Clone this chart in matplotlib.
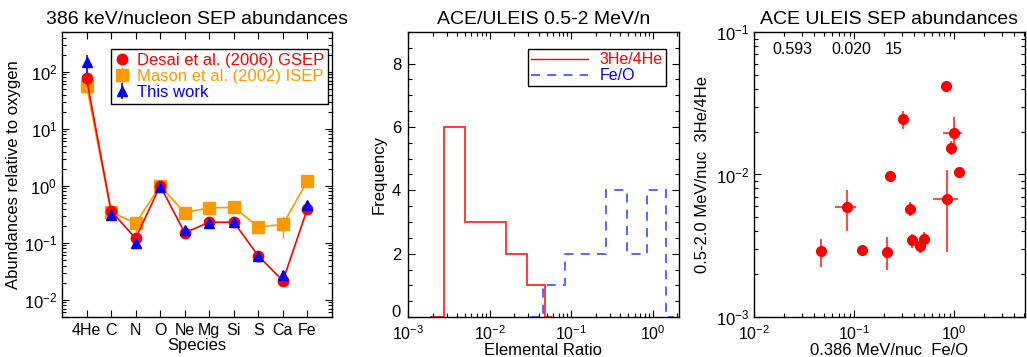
import matplotlib
matplotlib.use("Agg")
import matplotlib.pyplot as plt
import matplotlib.transforms as mtransforms
from matplotlib.lines import Line2D
from matplotlib.ticker import LogLocator, MultipleLocator, NullFormatter
import numpy as np

plt.rcParams['font.family'] = ['Liberation Sans', 'DejaVu Sans']
plt.rcParams['mathtext.default'] = 'regular'

# ---- panel 1: abundances relative to oxygen ----
species = ["4He", "C", "N", "O", "Ne", "Mg", "Si", "S", "Ca", "Fe"]
desai = [77, 0.36, 0.12, 1.0, 0.15, 0.23, 0.23, 0.059, 0.0216, 0.40]
mason = [57, 0.35, 0.22, 1.0, 0.34, 0.41, 0.42, 0.19, 0.21, 1.22]
mason_lo = [57, 0.35, 0.158, 1.0, 0.34, 0.41, 0.42, 0.16, 0.12, 1.22]
mason_hi = [57, 0.35, 0.25, 1.0, 0.34, 0.41, 0.42, 0.21, 0.30, 1.22]
this_work = [150, 0.31, 0.10, 0.97, 0.17, 0.225, 0.235, 0.058, 0.0275, 0.46]
this_lo = [96, 0.30, 0.095, 0.95, 0.16, 0.215, 0.225, 0.055, 0.024, 0.43]
this_hi = [198, 0.32, 0.105, 0.99, 0.18, 0.235, 0.245, 0.061, 0.032, 0.49]

# ---- panel 2: histograms of elemental ratios ----
he_edges = [0.00185, 0.00275, 0.00505, 0.0090, 0.0161, 0.0290, 0.0475, 0.0586]
he_counts = [0, 6, 3, 3, 2, 1, 0]
fe_edges = [0.0314, 0.0455, 0.083, 0.15, 0.268, 0.48, 0.855, 1.44, 1.81]
fe_counts = [0, 1, 2, 2, 4, 2, 4, 0]

# ---- panel 3: 3He/4He vs Fe/O ----
fe_o = [0.82, 0.307, 0.995, 0.94, 1.11, 0.227, 0.084, 0.366, 0.84, 0.375, 0.50, 0.46, 0.047, 0.119, 0.214]
fe_lo = [0.80, 0.30, 0.776, 0.92, 1.08, 0.22, 0.0646, 0.355, 0.617, 0.365, 0.49, 0.45, 0.046, 0.116, 0.208]
fe_hi = [0.84, 0.315, 1.21, 0.96, 1.14, 0.234, 0.1047, 0.377, 1.08, 0.385, 0.51, 0.47, 0.048, 0.122, 0.22]
he3 = [0.0418, 0.0244, 0.0196, 0.0153, 0.0104, 0.00976, 0.0059, 0.00577, 0.00677, 0.00349, 0.00352, 0.00313, 0.00289, 0.00294, 0.00286]
he3_lo = [0.040, 0.021, 0.0141, 0.0136, 0.0098, 0.0093, 0.00401, 0.00512, 0.00286, 0.00305, 0.00316, 0.00281, 0.00224, 0.00271, 0.00212]
he3_hi = [0.0436, 0.0279, 0.0254, 0.0172, 0.0111, 0.0104, 0.00775, 0.00642, 0.0107, 0.00385, 0.00395, 0.00345, 0.00355, 0.00317, 0.00364]
corr_text = ["0.593", "0.020", "15"]

orange = '#ff9900'
title_size = 14
label_size = 12
tick_size = 12


def style_axis(ax, xpad=4):
  ax.tick_params(which='both', direction='in', top=True, right=True, labelsize=tick_size, width=0.8)
  ax.tick_params(which='major', length=5)
  ax.tick_params(which='minor', length=3)
  ax.tick_params(axis='x', which='both', pad=xpad)
  for s in ax.spines.values():
    s.set_linewidth(1.0)


fig = plt.figure(figsize=(10.27, 3.57), dpi=100)
ax1 = fig.add_axes([62/1027, 40/357, 270/1027, 285/357])
ax2 = fig.add_axes([408/1027, 40/357, 271/1027, 285/357])
ax3 = fig.add_axes([754/1027, 40/357, 271/1027, 285/357])

###############################
### Panel 1
###############################
xpos = np.arange(len(species))
ax1.plot(xpos, mason, color=orange, lw=1.2, zorder=2)
ax1.plot(xpos, desai, color='red', lw=1.2, zorder=3)
ax1.plot(xpos, desai, 'o', color='red', ms=7.5, zorder=3, label="Desai et al. (2006) GSEP")
ax1.errorbar(xpos, mason, yerr=[np.array(mason) - mason_lo, np.array(mason_hi) - mason],
             fmt='s', color=orange, ms=8, elinewidth=1.0, capsize=0, zorder=2,
             label="Mason et al. (2002) ISEP")
ax1.errorbar(xpos, this_work, yerr=[np.array(this_work) - this_lo, np.array(this_hi) - this_work],
             fmt='^', color='blue', ms=7, elinewidth=1.2, capsize=0, zorder=4, label="This work")
ax1.set_yscale('log')
ax1.set_ylim(5e-3, 500)
ax1.set_xlim(-1, 10)
ax1.set_xticks(xpos)
ax1.set_xticklabels(species)
ax1.yaxis.set_minor_locator(LogLocator(base=10, subs=np.arange(2, 10)))
ax1.yaxis.set_minor_formatter(NullFormatter())
style_axis(ax1, xpad=4)
ax1.tick_params(axis='x', labelsize=11.5)
ax1.set_title("386 keV/nucleon SEP abundances", fontsize=title_size, pad=6)
ax1.set_ylabel("Abundances relative to oxygen", fontsize=label_size, labelpad=2)
ax1.set_xlabel("Species", fontsize=label_size, labelpad=0)
h, l = ax1.get_legend_handles_labels()
leg1 = ax1.legend(h, l, loc='upper right',
                  bbox_to_anchor=(0.985, 0.94), borderaxespad=0, fontsize=12,
                  fancybox=False, edgecolor='black', framealpha=1, handlelength=0.8,
                  handletextpad=0.5, labelspacing=0.05, borderpad=0.25,
                  labelcolor=['red', orange, 'blue'])
leg1.get_frame().set_linewidth(1.0)

###############################
### Panel 2
###############################
ax2.stairs(fe_counts, fe_edges, color='#4a5aff', lw=1.3, linestyle=(0, (5, 4)))
ax2.stairs(he_counts, he_edges, color='#ff2a2a', lw=1.3)
ax2.set_xscale('log')
ax2.set_xlim(1e-3, 2.1)
ax2.set_ylim(0, 9)
ax2.yaxis.set_major_locator(MultipleLocator(2))
ax2.yaxis.set_minor_locator(MultipleLocator(0.5))
ax2.xaxis.set_minor_locator(LogLocator(base=10, subs=np.arange(2, 10)))
ax2.xaxis.set_minor_formatter(NullFormatter())
style_axis(ax2, xpad=5)
ax2.tick_params(axis='x', labelsize=11.5)
ax2.tick_params(axis='y', pad=5)
ax2.set_title("ACE/ULEIS 0.5-2 MeV/n", fontsize=title_size, pad=6)
ax2.set_xlabel("Elemental Ratio", fontsize=label_size, labelpad=0)
ax2.set_ylabel("Frequency", fontsize=label_size)
proxies = [Line2D([], [], color='red', lw=1.0),
           Line2D([], [], color='#4a5aff', lw=1.3, linestyle=(0, (5, 4)))]
leg2 = ax2.legend(proxies, ["3He/4He", "Fe/O"], loc='upper right',
                  bbox_to_anchor=(0.952, 0.94), borderaxespad=0, fontsize=11.5,
                  fancybox=False, edgecolor='black', framealpha=1, handlelength=3.6,
                  handletextpad=0.7, labelspacing=0.05, borderpad=0.2,
                  labelcolor=['red', 'blue'])
leg2.get_frame().set_linewidth(1.0)

###############################
### Panel 3
###############################
fe_o_a = np.array(fe_o)
he3_a = np.array(he3)
ax3.errorbar(fe_o_a, he3_a,
             xerr=[fe_o_a - fe_lo, np.array(fe_hi) - fe_o_a],
             yerr=[he3_a - he3_lo, np.array(he3_hi) - he3_a],
             fmt='o', color='red', ms=7, ecolor='#ff4d4d', elinewidth=1.5, capsize=0)
ax3.set_xscale('log')
ax3.set_yscale('log')
ax3.set_xlim(1e-2, 5.1)
ax3.set_ylim(1e-3, 1e-1)
for axis in (ax3.xaxis, ax3.yaxis):
  axis.set_minor_locator(LogLocator(base=10, subs=np.arange(2, 10)))
  axis.set_minor_formatter(NullFormatter())
style_axis(ax3, xpad=5)
ax3.tick_params(axis='x', labelsize=11.5)
ax3.set_title("ACE ULEIS SEP abundances", fontsize=title_size, pad=6)
ax3.set_xlabel("0.386 MeV/nuc  Fe/O", fontsize=label_size, labelpad=0)
ax3.set_ylabel("0.5-2.0 MeV/nuc  3He/4He", fontsize=label_size)
for txt, xf in zip(corr_text, [0.066, 0.287, 0.483]):
  ax3.text(xf, 0.94, txt, transform=ax3.transAxes, fontsize=11.5, va='center', ha='left')

# lift the "0" label of the histogram a little so it clears the 10^-3 label
fig.canvas.draw()
lift = mtransforms.ScaledTranslation(0, 4/72, fig.dpi_scale_trans)
for tick in ax2.yaxis.get_major_ticks():
  if abs(tick.get_loc()) < 1e-9:
    tick.label1.set_transform(tick.label1.get_transform() + lift)

fig.savefig("out.png", dpi=100)
